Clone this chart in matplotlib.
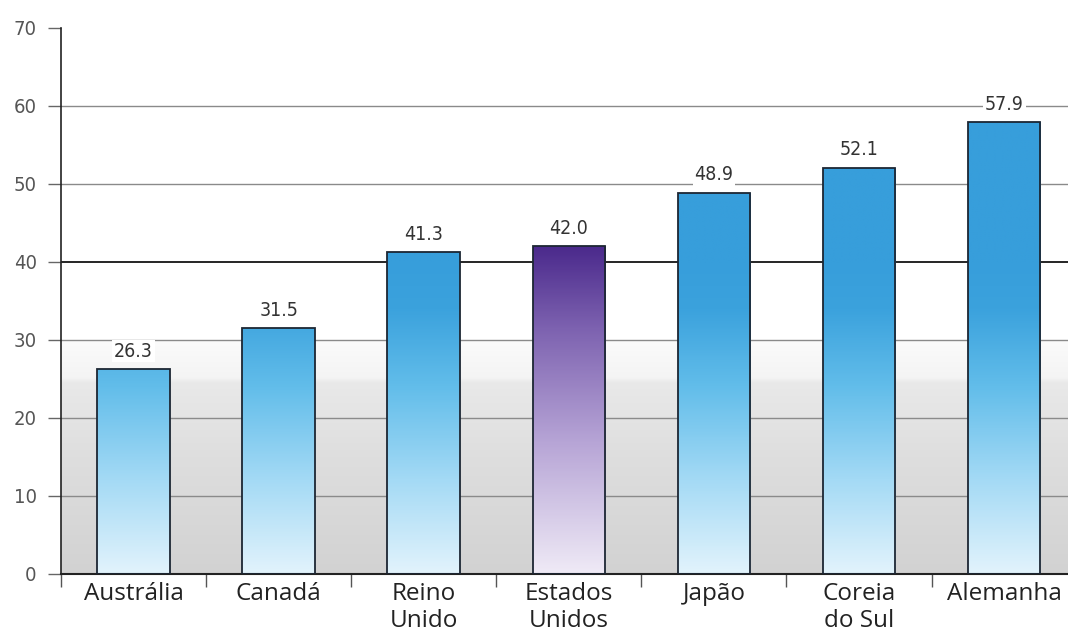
import numpy as np
import matplotlib
matplotlib.use("Agg")
import matplotlib.pyplot as plt
from matplotlib.colors import LinearSegmentedColormap

# data
paises = ["Austrália", "Canadá", "Reino\nUnido", "Estados\nUnidos", "Japão", "Coreia\ndo Sul", "Alemanha"]
valores = [26.3, 31.5, 41.3, 42.0, 48.9, 52.1, 57.9]
destaque = "Estados\nUnidos"
y_ticks = [0, 10, 20, 30, 40, 50, 60, 70]

label_font = ["Open Sans", "Lato", "DejaVu Sans"]
num_font = ["DejaVu Sans"]

blue_cmap = LinearSegmentedColormap.from_list(
    "azul", [(0.0, "#e2f3fc"), (0.3, "#a4daf5"), (0.6, "#62bdea"), (0.85, "#3ba2dd"), (1.0, "#379edb")])
purple_cmap = LinearSegmentedColormap.from_list(
    "roxo", [(0.0, "#efeaf6"), (0.4, "#b7a5d6"), (0.75, "#7d62b0"), (1.0, "#4b2a8c")])
bg_cmap = LinearSegmentedColormap.from_list(
    "fundo", [(0.0, "#d2d2d2"), (0.5, "#dedede"), (0.82, "#e9e9e9"), (0.84, "#f4f4f4"), (1.0, "#fbfbfb")])

fig = plt.figure(figsize=(10.68, 6.32), dpi=100)
ax = fig.add_axes([0.0571, 0.0918, 0.9429, 0.8639])

xlim = (-0.5, 6.44)
ylim = (0, 70)
x = np.arange(len(paises))

# background gradient in the lower band
bg = np.linspace(0, 1, 256).reshape(-1, 1)
ax.imshow(bg, extent=[xlim[0], xlim[1], 0, 30], origin="lower", cmap=bg_cmap,
          aspect="auto", zorder=0, interpolation="bicubic")

# horizontal grid lines
for t in y_ticks[1:-1]:
    ax.axhline(t, color="black" if t == 40 else "#8a8a8a", lw=1.2 if t == 40 else 1.0, zorder=1)

bars = ax.bar(x, valores, width=0.5, facecolor="none", edgecolor="#1c2633", lw=1.3, zorder=3)

for b, nome, v in zip(bars, paises, valores):
    x0 = b.get_x()
    x1 = x0 + b.get_width()
    ys = np.linspace(0, v, 300)
    if nome == destaque:
        rgba = purple_cmap(ys / v)
    else:
        rgba = blue_cmap(np.clip(ys / 40.0, 0, 1))
    im = ax.imshow(rgba.reshape(-1, 1, 4), extent=[x0, x1, 0, v], origin="lower",
                   aspect="auto", zorder=2, interpolation="bilinear")
    im.set_clip_path(b)
    ax.annotate(f"{v:.1f}", (b.get_x() + b.get_width() / 2, v), xytext=(0, 6),
                textcoords="offset points", ha="center", va="bottom", fontsize=14,
                family=num_font, fontstretch="condensed", color="#333333", zorder=4,
                bbox=dict(boxstyle="square,pad=0.1", fc="white", ec="none"))

ax.set_xlim(*xlim)
ax.set_ylim(*ylim)

# axes styling
for s in ["top", "right"]:
    ax.spines[s].set_visible(False)
ax.spines["left"].set_color("#222222")
ax.spines["bottom"].set_color("#222222")
ax.spines["bottom"].set_linewidth(1.5)
ax.spines["left"].set_linewidth(1.2)

ax.set_yticks(y_ticks)
ax.set_yticklabels([str(t) for t in y_ticks], family=num_font, fontstretch="condensed",
                   fontsize=14.5, color="#555555")
ax.tick_params(axis="y", length=9.5, width=1, color="#666666", pad=8)

ax.set_xticks(np.arange(-0.5, 6, 1.0))
ax.set_xticklabels([])
ax.tick_params(axis="x", which="major", length=9, width=1, color="#555555")
ax.set_xticks(x, minor=True)
ax.set_xticklabels(paises, minor=True, family=label_font, fontsize=17.5, color="#222222",
                   linespacing=1.15)
ax.tick_params(axis="x", which="minor", length=0, pad=6)

fig.savefig("out.png", dpi=100)
